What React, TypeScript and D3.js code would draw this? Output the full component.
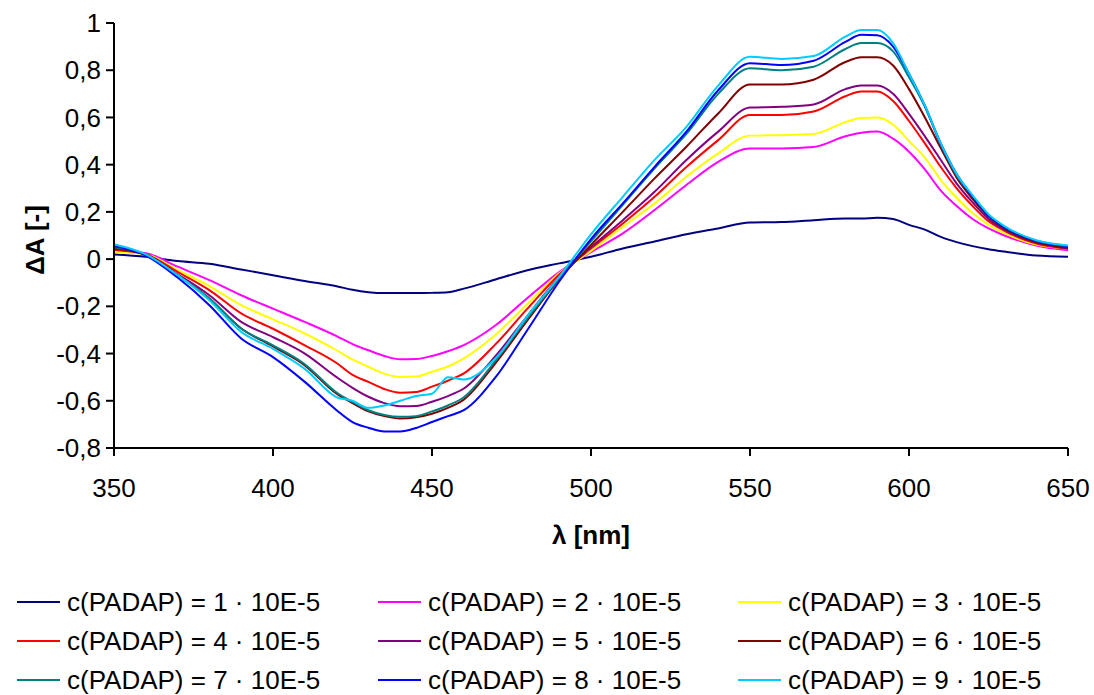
import React from "react";
import * as d3 from "d3";

const wavelengths = [350,360,370,380,390,400,410,420,425,430,435,440,445,450,455,460,470,480,490,500,510,520,530,540,550,560,570,580,585,590,595,600,605,610,615,620,625,630,640,650];

const s1 = [0.02,0.01,-0.008,-0.02,-0.044,-0.068,-0.093,-0.115,-0.13,-0.14,-0.144,-0.144,-0.144,-0.143,-0.14,-0.125,-0.086,-0.047,-0.018,0.01,0.045,0.075,0.105,0.13,0.155,0.157,0.165,0.172,0.172,0.175,0.17,0.145,0.125,0.094,0.072,0.055,0.042,0.032,0.015,0.01];
const s2 = [0.035,0.025,-0.032,-0.089,-0.153,-0.21,-0.266,-0.326,-0.36,-0.386,-0.41,-0.424,-0.423,-0.41,-0.39,-0.364,-0.28,-0.165,-0.055,0.03,0.109,0.208,0.314,0.412,0.469,0.469,0.475,0.52,0.535,0.54,0.51,0.455,0.38,0.29,0.225,0.17,0.13,0.1,0.058,0.038];
const s3 = [0.03,0.02,-0.046,-0.114,-0.195,-0.255,-0.315,-0.386,-0.425,-0.456,-0.485,-0.499,-0.497,-0.477,-0.455,-0.42,-0.32,-0.19,-0.06,0.035,0.137,0.236,0.349,0.448,0.523,0.525,0.53,0.58,0.598,0.6,0.57,0.5,0.43,0.335,0.26,0.195,0.145,0.11,0.062,0.045];
const s4 = [0.04,0.02,-0.054,-0.131,-0.23,-0.295,-0.365,-0.44,-0.49,-0.52,-0.55,-0.566,-0.563,-0.54,-0.515,-0.484,-0.36,-0.21,-0.065,0.045,0.151,0.264,0.39,0.504,0.61,0.61,0.625,0.69,0.71,0.71,0.67,0.585,0.49,0.39,0.3,0.225,0.16,0.12,0.066,0.045];
const s5 = [0.045,0.02,-0.064,-0.153,-0.266,-0.33,-0.4,-0.5,-0.545,-0.583,-0.61,-0.623,-0.622,-0.604,-0.58,-0.548,-0.41,-0.24,-0.075,0.05,0.165,0.285,0.42,0.54,0.642,0.645,0.655,0.72,0.735,0.735,0.7,0.615,0.52,0.42,0.32,0.24,0.17,0.125,0.07,0.045];
const s6 = [0.045,0.02,-0.068,-0.167,-0.294,-0.37,-0.45,-0.57,-0.61,-0.645,-0.665,-0.675,-0.67,-0.655,-0.63,-0.595,-0.44,-0.26,-0.085,0.06,0.2,0.342,0.476,0.617,0.74,0.74,0.76,0.835,0.855,0.855,0.82,0.72,0.6,0.47,0.345,0.255,0.18,0.13,0.072,0.048];
const s7 = [0.05,0.02,-0.068,-0.167,-0.294,-0.365,-0.445,-0.565,-0.605,-0.64,-0.66,-0.668,-0.665,-0.645,-0.62,-0.585,-0.43,-0.25,-0.08,0.075,0.23,0.385,0.53,0.7,0.808,0.8,0.815,0.89,0.915,0.915,0.88,0.77,0.645,0.485,0.355,0.265,0.185,0.135,0.078,0.055];
const s8 = [0.055,0.015,-0.078,-0.195,-0.336,-0.415,-0.52,-0.64,-0.69,-0.714,-0.73,-0.73,-0.715,-0.69,-0.665,-0.64,-0.5,-0.3,-0.095,0.085,0.236,0.391,0.54,0.715,0.83,0.822,0.84,0.92,0.95,0.948,0.9,0.785,0.65,0.49,0.36,0.265,0.185,0.135,0.078,0.055];
const s9 = [0.063,0.02,-0.068,-0.174,-0.308,-0.38,-0.465,-0.585,-0.6,-0.63,-0.62,-0.6,-0.58,-0.57,-0.5,-0.51,-0.42,-0.24,-0.075,0.105,0.264,0.42,0.56,0.735,0.857,0.848,0.86,0.942,0.97,0.97,0.915,0.785,0.65,0.49,0.36,0.27,0.19,0.14,0.08,0.058];

const seriesValues = [s1, s2, s3, s4, s5, s6, s7, s8, s9];
const seriesNames = [
  "c(PADAP) = 1 · 10E-5",
  "c(PADAP) = 2 · 10E-5",
  "c(PADAP) = 3 · 10E-5",
  "c(PADAP) = 4 · 10E-5",
  "c(PADAP) = 5 · 10E-5",
  "c(PADAP) = 6 · 10E-5",
  "c(PADAP) = 7 · 10E-5",
  "c(PADAP) = 8 · 10E-5",
  "c(PADAP) = 9 · 10E-5",
];
const seriesColors = ["#000080", "#FF00FF", "#FFFF00", "#FF0000", "#800080", "#800000", "#008080", "#0000FF", "#00CCFF"];
const xTicks = [350, 400, 450, 500, 550, 600, 650];
const yTicks = [-0.8, -0.6, -0.4, -0.2, 0, 0.2, 0.4, 0.6, 0.8, 1];

const W = 1094;
const H = 695;
const FONT = "'Liberation Sans', Arial, sans-serif";

function fmtY(v: number): string {
  const r = Math.round(v * 10) / 10;
  if (Math.abs(r - Math.round(r)) < 1e-9) return String(Math.round(r));
  return r.toFixed(1).replace(".", ",");
}

export default function App() {
  const x = d3.scaleLinear().domain([350, 650]).range([114, 1068]);
  const y = d3.scaleLinear().domain([-0.8, 1]).range([448, 23]);
  const line = d3
    .line<[number, number]>()
    .x((d) => x(d[0]))
    .y((d) => y(d[1]))
    .curve(d3.curveMonotoneX);

  const legendCols = [17, 378, 738];
  const legendRows = [602, 641, 680];
  const fs = 26;

  return (
    <svg
      width={W}
      height={H}
      style={{ position: "absolute", left: 0, top: 0, background: "#fff" }}
      fontFamily={FONT}
    >
      <rect x={0} y={0} width={W} height={H} fill="#fff" />
      {seriesValues.map((vals, i) => (
        <path
          key={i}
          d={line(wavelengths.map((w, j) => [w, vals[j]] as [number, number])) || ""}
          fill="none"
          stroke={seriesColors[i]}
          strokeWidth={2}
          strokeLinejoin="round"
        />
      ))}
      <line x1={x(350)} x2={x(350)} y1={y(1)} y2={y(-0.8)} stroke="#000" strokeWidth={2} />
      <line x1={x(350)} x2={x(650)} y1={y(-0.8)} y2={y(-0.8)} stroke="#000" strokeWidth={2} />
      {yTicks.map((t) => (
        <g key={"y" + t}>
          <line x1={x(350) - 8} x2={x(350)} y1={y(t)} y2={y(t)} stroke="#000" strokeWidth={2} />
          <text x={x(350) - 13} y={y(t)} dy="0.35em" textAnchor="end" fontSize={fs} fill="#000">
            {fmtY(t)}
          </text>
        </g>
      ))}
      {xTicks.map((t) => (
        <g key={"x" + t}>
          <line x1={x(t)} x2={x(t)} y1={y(-0.8)} y2={y(-0.8) + 8} stroke="#000" strokeWidth={2} />
          <text x={x(t)} y={488} dy="0.35em" textAnchor="middle" fontSize={fs} fill="#000">
            {t}
          </text>
        </g>
      ))}
      <text x={591} y={535} dy="0.35em" textAnchor="middle" fontSize={fs} fontWeight="bold" fill="#000">
        λ [nm]
      </text>
      <text
        transform={`translate(35, 240) rotate(-90)`}
        dy="0.35em"
        textAnchor="middle"
        fontSize={fs}
        fontWeight="bold"
        fill="#000"
      >
        ΔA [-]
      </text>
      {seriesNames.map((name, i) => {
        const cx = legendCols[i % 3];
        const cy = legendRows[Math.floor(i / 3)];
        return (
          <g key={"lg" + i}>
            <line x1={cx} x2={cx + 43} y1={cy} y2={cy} stroke={seriesColors[i]} strokeWidth={2} />
            <text x={cx + 50} y={cy} dy="0.35em" fontSize={fs} fill="#000">
              {name}
            </text>
          </g>
        );
      })}
    </svg>
  );
}
